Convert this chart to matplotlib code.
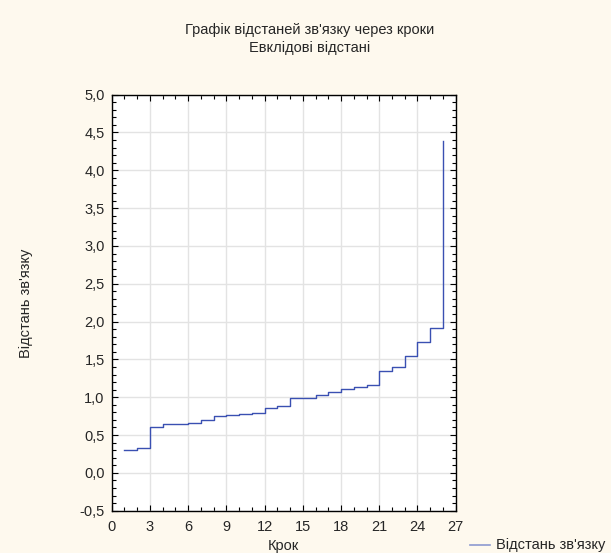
import matplotlib
matplotlib.use("Agg")
import matplotlib.pyplot as plt
from matplotlib.lines import Line2D
from matplotlib.ticker import MultipleLocator, FuncFormatter

plt.rcParams['font.family'] = ['Liberation Sans', 'DejaVu Sans']

# linkage distances per step (tree clustering, Euclidean)
steps = list(range(1, 27))
dist = [0.309, 0.331, 0.610, 0.641, 0.643, 0.659, 0.695, 0.756, 0.765, 0.782,
        0.787, 0.854, 0.880, 0.985, 0.987, 1.027, 1.070, 1.106, 1.140, 1.160,
        1.350, 1.400, 1.545, 1.730, 1.920, 4.386]

title_lines = ["Графік відстаней зв'язку через кроки", "Евклідові відстані"]
xlabel = "Крок"
ylabel = "Відстань зв'язку"
legend_label = "Відстань зв'язку"

bg = '#fef9ee'
line_col = '#3a50b2'
txt_col = '#262626'
fs = 10.5

fig = plt.figure(figsize=(6.11, 5.53), dpi=100, facecolor=bg)
ax = fig.add_axes([0.1828, 0.0765, 0.563, 0.7523])
ax.set_facecolor('white')

ax.plot(steps, dist, drawstyle='steps-post', color=line_col, lw=1.0)

ax.set_xlim(0, 27)
ax.set_ylim(-0.5, 5.0)
ax.xaxis.set_major_locator(MultipleLocator(3))
ax.xaxis.set_minor_locator(MultipleLocator(1))
ax.yaxis.set_major_locator(MultipleLocator(0.5))
ax.yaxis.set_minor_locator(MultipleLocator(0.1))
ax.yaxis.set_major_formatter(FuncFormatter(lambda v, p: f"{v:.1f}".replace('.', ',')))

ax.tick_params(which='both', direction='in', top=True, right=True,
               colors='black', labelcolor=txt_col, labelsize=fs)
ax.tick_params(which='major', length=4, width=0.8)
ax.tick_params(which='minor', length=3, width=0.8)
ax.tick_params(axis='x', pad=7)
ax.tick_params(axis='y', pad=5)

ax.grid(True, which='major', color='#e3e3e3', lw=1.0)
ax.set_axisbelow(True)
for s in ax.spines.values():
    s.set_linewidth(1.0)
    s.set_color('black')

fig.text(310 / 611, 1 - 30 / 553, title_lines[0], ha='center', va='center',
         fontsize=fs, color=txt_col)
fig.text(310 / 611, 1 - 48 / 553, title_lines[1], ha='center', va='center',
         fontsize=fs, color=txt_col)
fig.text(283 / 611, 1 - 546 / 553, xlabel, ha='center', va='center',
         fontsize=fs, color=txt_col)
fig.text(26 / 611, 1 - 303 / 553, ylabel, ha='center', va='center',
         rotation=90, fontsize=fs, color=txt_col)

# legend entry in the lower right corner
fig.add_artist(Line2D([470 / 611, 490 / 611], [1 - 545 / 553, 1 - 545 / 553],
                      color='#8c9ad0', lw=1.2, transform=fig.transFigure))
fig.text(496 / 611, 1 - 545 / 553, legend_label, ha='left', va='center',
         fontsize=fs, color=txt_col)

fig.savefig('out.png', dpi=100, facecolor=bg)
